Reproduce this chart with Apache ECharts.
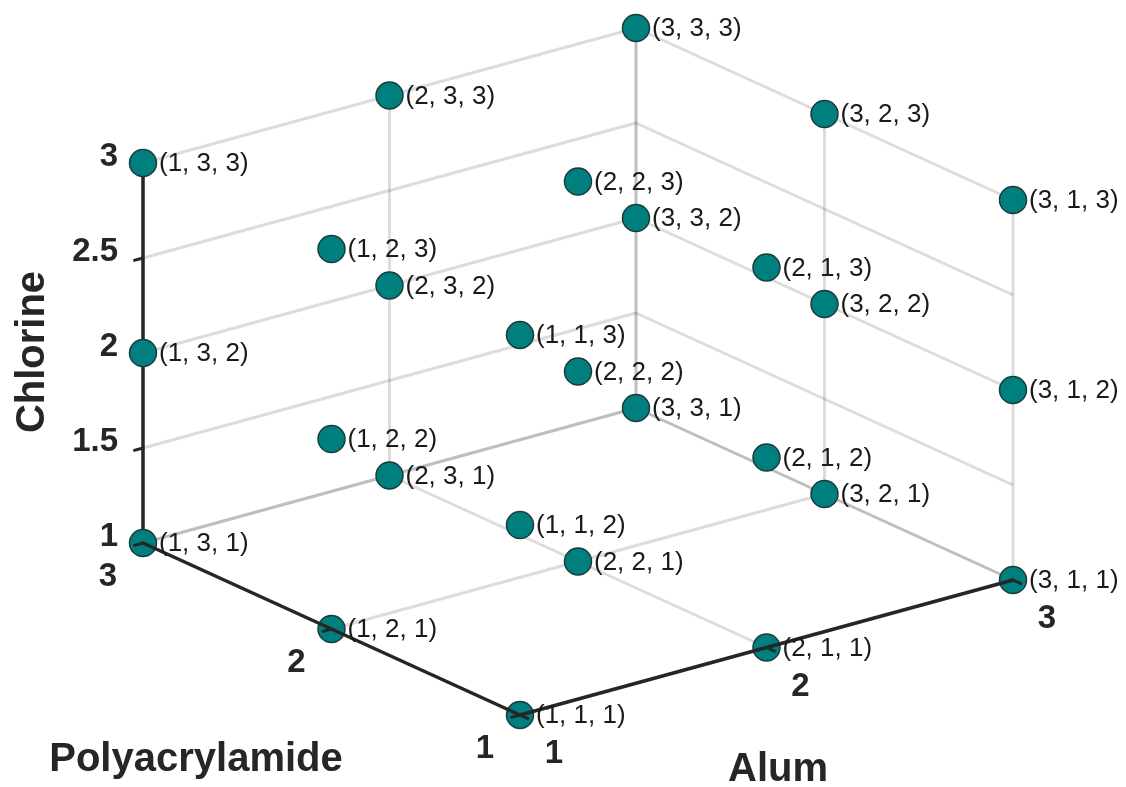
<!DOCTYPE html>
<html>
<head>
<meta charset="utf-8">
<title>Alum / Polyacrylamide / Chlorine design points</title>
<script src="https://cdn.jsdelivr.net/npm/echarts@6/dist/echarts.min.js"></script>
<style>
  html, body { margin: 0; padding: 0; background: #ffffff; }
  #chart { width: 1126px; height: 787px; }
</style>
</head>
<body>
<div id="chart"></div>
<script>
// Design points: (Alum, Polyacrylamide, Chlorine) levels
const alum     = [1, 2, 3, 1, 2, 3, 1, 2, 3,  1, 2, 3, 1, 2, 3, 1, 2, 3,  1, 2, 3, 1, 2, 3, 1, 2, 3];
const poly     = [1, 1, 1, 2, 2, 2, 3, 3, 3,  1, 1, 1, 2, 2, 2, 3, 3, 3,  1, 1, 1, 2, 2, 2, 3, 3, 3];
const chlorine = [1, 1, 1, 1, 1, 1, 1, 1, 1,  2, 2, 2, 2, 2, 2, 2, 2, 2,  3, 3, 3, 3, 3, 3, 3, 3, 3];

// Axis ticks and their labels
const alumTicks = [1, 2, 3];
const polyTicks = [1, 2, 3];
const chlorineTicks = [1, 1.5, 2, 2.5, 3];
const alumTickLabels = ['1', '2', '3'];
const polyTickLabels = ['1', '2', '3'];
const chlorineTickLabels = ['1', '1.5', '2', '2.5', '3'];

// Axis ranges
const alumRange = [1, 3];
const polyRange = [1, 3];
const chlorineRange = [1, 3];

// Oblique 3-D view: screen-plane step for one unit along each axis
const VIEW = {
  alum: [246.5, 67.5],
  poly: [-188.5, 86],
  chlorine: [0, 190]
};

function project(a, p, c) {
  const da = a - alumRange[0], dp = p - polyRange[0], dc = c - chlorineRange[0];
  return [
    da * VIEW.alum[0] + dp * VIEW.poly[0] + dc * VIEW.chlorine[0],
    da * VIEW.alum[1] + dp * VIEW.poly[1] + dc * VIEW.chlorine[1]
  ];
}

const FONT = '"Liberation Sans", Arial, Helvetica, sans-serif';
const GRID_STROKE = 'rgba(38,38,38,0.16)';
const AXIS_STROKE = '#262626';

// Grid lines on the three back planes
const gridSegments = [];
alumTicks.forEach(a => gridSegments.push([a, polyRange[0], chlorineRange[0], a, polyRange[1], chlorineRange[0]]));
polyTicks.forEach(p => gridSegments.push([alumRange[0], p, chlorineRange[0], alumRange[1], p, chlorineRange[0]]));
alumTicks.forEach(a => gridSegments.push([a, polyRange[1], chlorineRange[0], a, polyRange[1], chlorineRange[1]]));
chlorineTicks.forEach(c => gridSegments.push([alumRange[0], polyRange[1], c, alumRange[1], polyRange[1], c]));
polyTicks.forEach(p => gridSegments.push([alumRange[1], p, chlorineRange[0], alumRange[1], p, chlorineRange[1]]));
chlorineTicks.forEach(c => gridSegments.push([alumRange[1], polyRange[0], c, alumRange[1], polyRange[1], c]));

// Axis lines
const floorAxes = [
  [alumRange[0], polyRange[0], chlorineRange[0], alumRange[1], polyRange[0], chlorineRange[0]],
  [alumRange[0], polyRange[0], chlorineRange[0], alumRange[0], polyRange[1], chlorineRange[0]]
];
const verticalAxis = [
  [alumRange[0], polyRange[1], chlorineRange[0], alumRange[0], polyRange[1], chlorineRange[1]]
];

const points = alum.map((a, i) => [a, poly[i], chlorine[i]]);

function segmentRenderer(style) {
  return function (params, api) {
    const p1 = api.coord(project(api.value(0), api.value(1), api.value(2)));
    const p2 = api.coord(project(api.value(3), api.value(4), api.value(5)));
    return {
      type: 'line',
      shape: { x1: p1[0], y1: p1[1], x2: p2[0], y2: p2[1] },
      style: style
    };
  };
}

// Short tick mark at a 3-D point, pointing along a 3-D direction
function tickShape(api, pt, dir, len) {
  const p0 = api.coord(project(pt[0], pt[1], pt[2]));
  const p1 = api.coord(project(pt[0] + dir[0] * 0.1, pt[1] + dir[1] * 0.1, pt[2] + dir[2] * 0.1));
  const dx = p1[0] - p0[0], dy = p1[1] - p0[1];
  const n = Math.hypot(dx, dy) || 1;
  return { type: 'line', shape: { x1: p0[0], y1: p0[1], x2: p0[0] + dx / n * len, y2: p0[1] + dy / n * len },
           style: { stroke: AXIS_STROKE, lineWidth: 3 } };
}

function tickLabelSeries(ticks, labels, toPoint, dir, offset, align) {
  return {
    type: 'custom',
    coordinateSystem: 'cartesian2d',
    silent: true,
    clip: false,
    z: 5,
    data: ticks.map(t => [t]),
    renderItem: function (params, api) {
      const pt = toPoint(api.value(0));
      const c = api.coord(project(pt[0], pt[1], pt[2]));
      return {
        type: 'group',
        children: [
          tickShape(api, pt, dir, 10),
          {
            type: 'text',
            style: {
              text: labels[params.dataIndex],
              x: c[0] + offset[0], y: c[1] + offset[1],
              align: align, verticalAlign: 'middle',
              fill: AXIS_STROKE, fontFamily: FONT, fontWeight: 'bold', fontSize: 33
            }
          }
        ]
      };
    }
  };
}

const chart = echarts.init(document.getElementById('chart'), null, { renderer: 'canvas' });

const originPx = [520, 715];
const option = {
  backgroundColor: '#ffffff',
  animation: false,
  grid: { left: 0, right: 0, top: 0, bottom: 0 },
  xAxis: { type: 'value', min: -originPx[0], max: 1126 - originPx[0], show: false, splitLine: { show: false } },
  yAxis: { type: 'value', min: originPx[1] - 787, max: originPx[1], show: false, splitLine: { show: false } },
  graphic: [
    { type: 'text', x: 33, y: 352, rotation: Math.PI / 2,
      style: { text: 'Chlorine', align: 'center', verticalAlign: 'middle', fill: AXIS_STROKE,
               fontFamily: FONT, fontWeight: 'bold', fontSize: 40 } },
    { type: 'text', x: 196, y: 760,
      style: { text: 'Polyacrylamide', align: 'center', verticalAlign: 'middle', fill: AXIS_STROKE,
               fontFamily: FONT, fontWeight: 'bold', fontSize: 40 } },
    { type: 'text', x: 778, y: 770,
      style: { text: 'Alum', align: 'center', verticalAlign: 'middle', fill: AXIS_STROKE,
               fontFamily: FONT, fontWeight: 'bold', fontSize: 40 } }
  ],
  series: [
    {
      // back-plane grid
      type: 'custom', coordinateSystem: 'cartesian2d', silent: true, clip: false, z: 1,
      data: gridSegments,
      renderItem: segmentRenderer({ stroke: GRID_STROKE, lineWidth: 3 })
    },
    {
      // vertical Chlorine axis
      type: 'custom', coordinateSystem: 'cartesian2d', silent: true, clip: false, z: 2,
      data: verticalAxis,
      renderItem: segmentRenderer({ stroke: AXIS_STROKE, lineWidth: 3.5 })
    },
    tickLabelSeries(chlorineTicks, chlorineTickLabels,
      v => [alumRange[0], polyRange[1], v], [-1, 0, 0], [-25, -6], 'right'),
    {
      // design-point markers
      type: 'custom', coordinateSystem: 'cartesian2d', silent: true, clip: false, z: 6,
      data: points,
      renderItem: function (params, api) {
        const c = api.coord(project(api.value(0), api.value(1), api.value(2)));
        return {
          type: 'circle',
          shape: { cx: c[0], cy: c[1], r: 13.5 },
          style: { fill: '#007f7f', stroke: '#1b3b3b', lineWidth: 1.5 }
        };
      }
    },
    {
      // floor axes (Alum, Polyacrylamide)
      type: 'custom', coordinateSystem: 'cartesian2d', silent: true, clip: false, z: 7,
      data: floorAxes,
      renderItem: segmentRenderer({ stroke: AXIS_STROKE, lineWidth: 3.5, lineCap: 'round' })
    },
    Object.assign(tickLabelSeries(polyTicks, polyTickLabels,
      v => [alumRange[0], v, chlorineRange[0]], [-1, 0, 0], [-35, 34], 'center'), { z: 7 }),
    Object.assign(tickLabelSeries(alumTicks, alumTickLabels,
      v => [v, polyRange[0], chlorineRange[0]], [0, -1, 0], [34, 39], 'center'), { z: 7 }),
    {
      // point labels
      type: 'custom', coordinateSystem: 'cartesian2d', silent: true, clip: false, z: 8,
      data: points,
      renderItem: function (params, api) {
        const a = api.value(0), p = api.value(1), ch = api.value(2);
        const c = api.coord(project(a, p, ch));
        return {
          type: 'text',
          style: {
            text: '(' + a + ', ' + p + ', ' + ch + ')',
            x: c[0] + 16, y: c[1] + 1,
            align: 'left', verticalAlign: 'middle',
            fill: '#1a1a1a', fontFamily: FONT, fontSize: 26
          }
        };
      }
    }
  ]
};

chart.setOption(option);
</script>
</body>
</html>
